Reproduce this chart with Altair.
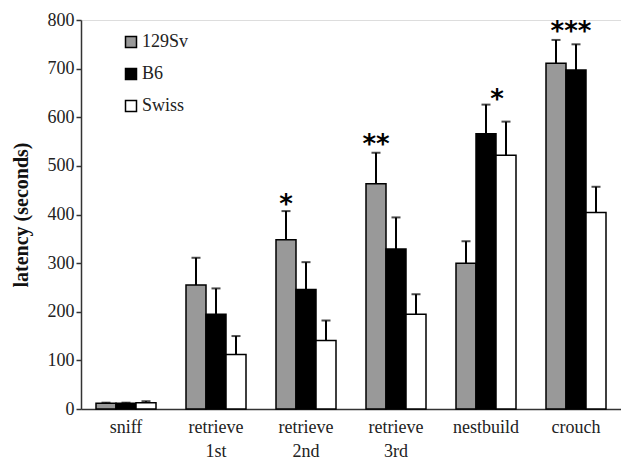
import altair as alt
import pandas as pd

categories = ["sniff", "retrieve 1st", "retrieve 2nd", "retrieve 3rd", "nestbuild", "crouch"]
strains = ["129Sv", "B6", "Swiss"]
colors = ["#999999", "#000000", "#ffffff"]

mean_129 = [12, 255, 348, 463, 300, 711]
mean_b6 = [12, 195, 246, 329, 566, 697]
mean_sw = [13, 112, 141, 195, 522, 404]
err_129 = [13, 311, 407, 527, 345, 759]
err_b6 = [13, 248, 302, 394, 626, 750]
err_sw = [16, 150, 182, 236, 591, 457]

star_cat = ["retrieve 2nd", "retrieve 3rd", "nestbuild", "crouch"]
star_strain = ["129Sv", "129Sv", "B6", "B6"]
star_text = ["*", "**", "*", "***"]
star_y = [435, 560, 652, 792]
star_shift = [0, 0, 11, -5]

rows = []
for i, c in enumerate(categories):
    for s, m, e in zip(strains, [mean_129, mean_b6, mean_sw], [err_129, err_b6, err_sw]):
        rows.append({"category": c, "strain": s, "value": m[i], "err": e[i]})
df = pd.DataFrame(rows)

stars = pd.DataFrame({"category": star_cat, "strain": star_strain, "text": star_text,
                      "y": star_y, "shift": star_shift})

FONT = "Liberation Serif"

x_enc = alt.X("category:N", sort=categories,
              scale=alt.Scale(paddingInner=1/3, paddingOuter=1/6),
              axis=alt.Axis(title=None, labelAngle=0, ticks=False, domainColor="#333333",
                            domainWidth=1.5, labelFont=FONT, labelFontSize=18,
                            labelColor="#222222", labelPadding=9, labelLineHeight=24,
                            labelBaseline="top",
                            labelExpr="split(datum.label, ' ')"))
xoff = alt.XOffset("strain:N", sort=strains, scale=alt.Scale(paddingInner=0, paddingOuter=0))
y_scale = alt.Scale(domain=[0, 800], nice=False)

bars = alt.Chart(df).mark_bar(stroke="black", strokeWidth=1.5).encode(
    x=x_enc,
    xOffset=xoff,
    y=alt.Y("value:Q", scale=y_scale,
            axis=alt.Axis(title="latency (seconds)", values=list(range(0, 801, 100)),
                          grid=False, tickSize=5, tickColor="#333333", tickWidth=1.5,
                          domainColor="#333333", domainWidth=1.5,
                          labelFont=FONT, labelFontSize=18, labelColor="#222222",
                          labelPadding=2, titleFont=FONT, titleFontSize=20,
                          titleFontWeight="bold", titleColor="#111111", titlePadding=16)),
    fill=alt.Fill("strain:N", sort=strains,
                  scale=alt.Scale(domain=strains, range=colors),
                  legend=alt.Legend(title=None, orient="none", legendX=41, legendY=13,
                                    symbolType="square", symbolSize=121,
                                    symbolStrokeColor="black", symbolStrokeWidth=1.5,
                                    labelFont=FONT, labelFontSize=18, labelColor="#222222",
                                    rowPadding=14, labelOffset=2, symbolOpacity=1)),
)

rules = alt.Chart(df).mark_rule(color="black", strokeWidth=2).encode(
    x=x_enc, xOffset=xoff,
    y=alt.Y("value:Q", scale=y_scale), y2="err:Q",
)
caps = alt.Chart(df).mark_tick(color="black", thickness=2, size=9, orient="horizontal").encode(
    x=x_enc, xOffset=xoff,
    y=alt.Y("err:Q", scale=y_scale),
)

layers = [bars, rules, caps]
for sh in sorted(set(star_shift)):
    sub = stars[stars["shift"] == sh]
    layers.append(
        alt.Chart(sub).mark_text(font="DejaVu Sans", fontSize=26, fontWeight="bold",
                                 baseline="middle", dx=sh, dy=8, color="black").encode(
            x=x_enc, xOffset=xoff,
            y=alt.Y("y:Q", scale=y_scale),
            text="text:N",
        )
    )

chart = alt.layer(*layers).properties(
    width=540, height=389,
    autosize=alt.AutoSizeParams(type="none"),
    padding={"left": 81, "top": 20, "right": 0, "bottom": 52},
).configure_view(stroke=None).configure(background="white")

chart.save("out.html", embed_options={"renderer": "svg", "actions": False})
